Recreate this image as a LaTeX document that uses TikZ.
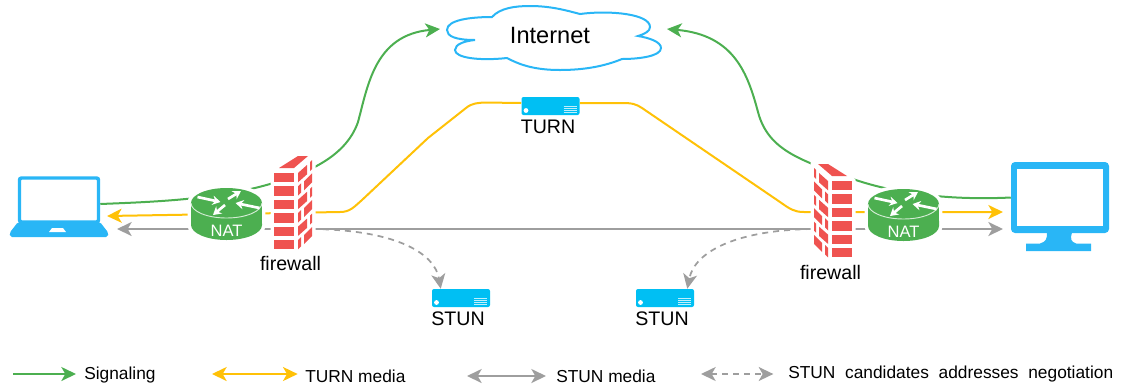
\documentclass[tikz,border=0pt]{standalone}
\usepackage{fontspec}
\setmainfont{Liberation Sans}
\usetikzlibrary{positioning, arrows.meta}

\definecolor{sigcolor}{HTML}{4CAF50}
\definecolor{turncolor}{HTML}{FFC107}
\definecolor{stuncolor}{HTML}{9E9E9E}
\definecolor{iconblue}{HTML}{29B6F6}
\definecolor{serverblue}{HTML}{00BFF3}
\definecolor{wallred}{HTML}{EF5350}

\tikzset{
  tip/.tip={Stealth[length=11pt, width=10.5pt, inset=3pt]},
  sigline/.style={draw=sigcolor, line width=1.5pt},
  turnline/.style={draw=turncolor, line width=1.5pt},
  stunline/.style={draw=stuncolor, line width=1.5pt},
  negoline/.style={draw=stuncolor, line width=1.3pt, dash pattern=on 4.5pt off 3.75pt},
  hiddenbox/.style={inner sep=0pt, minimum width=#1},
  serverbox/.style={fill=serverblue, rounded corners=1.5pt, minimum width=43.5pt, minimum height=13.5pt, inner sep=0pt},
  bigtext/.style={font=\fontsize{14.7pt}{17pt}\selectfont, inner sep=0pt},
  legendtext/.style={font=\fontsize{13pt}{15pt}\selectfont, inner sep=0pt, anchor=west},
  natlabel/.style={font=\fontsize{12.4pt}{14pt}\selectfont, text=white, inner sep=0pt},
  servermarks/.pic={
    \fill[white] (-24.5,4.5) circle (1.8pt);
    \foreach \v in {0.5,2.5,4.5,6.5} {
      \draw[white!75!serverblue, line width=0.9pt] (13,\v) -- (26,\v);
    }
  },
  routericon/.pic={
    % white gap round the router, then the body
    \draw[white, line width=5.25pt] (-35.5,-11) arc[start angle=180, end angle=0, x radius=26.6pt, y radius=11.25pt]
      -- (35.5,11) arc[start angle=0, end angle=-180, x radius=26.6pt, y radius=11.25pt] -- cycle;
    \fill[sigcolor] (-35.5,-11) arc[start angle=180, end angle=0, x radius=26.6pt, y radius=11.25pt]
      -- (35.5,11) arc[start angle=0, end angle=-180, x radius=26.6pt, y radius=11.25pt] -- cycle;
    \draw[white!75!sigcolor, line width=0.7pt] (-35.5,-11) arc[start angle=180, end angle=360, x radius=26.6pt, y radius=11.25pt];
    % Arrows on the top
    \foreach \xa/\ya/\xb/\yb in {-29/-17/-6/-12, 1.5/-15/14.5/-23, 33/-6/9/-11, -1.5/-9/-13.5/1} {
      \draw[white, line width=2pt, -{Stealth[length=6pt, width=7pt]}] (\xa,\ya) -- (\xb,\yb);
    }
  },
  firewallicon/.pic={
    % white gap round the wall
    \fill[white, draw=white, line width=5.25pt] (0,0) -- (5,-5) -- (24,-17) -- (38,-17) -- (38,62) -- (24,76) -- (0,76) -- cycle;
    \fill[wallred] (5,-5) -- (24,-17) -- (34,-17) -- (20,-5) -- cycle;
    \foreach \k in {0,...,5} {
      % Front bricks
      \fill[wallred] (0,13.4*\k) rectangle (20,13.4*\k+9.3);
    }
    % Side bricks
    \foreach \k in {0,2,4} {
      \fill[wallred] (24,13.4*\k) -- (33,13.4*\k-8) -- (33,13.4*\k+1.3) -- (24,13.4*\k+9.3) -- cycle;
      \fill[wallred] (36,13.4*\k-11) -- (38,13.4*\k-13) -- (38,13.4*\k-4) -- (36,13.4*\k-2) -- cycle;
    }
    \foreach \k in {1,3,5} {
      \fill[wallred] (24,13.4*\k) -- (27,13.4*\k-3) -- (27,13.4*\k+6.3) -- (24,13.4*\k+9.3) -- cycle;
      \fill[wallred] (30,13.4*\k-5) -- (38,13.4*\k-13) -- (38,13.4*\k-4) -- (30,13.4*\k+4) -- cycle;
    }
  },
  laptopicon/.pic={
    \draw[iconblue, line width=2.6pt, fill=white, rounded corners=1.5pt] (-39.5,-24) rectangle (39.5,20);
    \fill[iconblue, rounded corners=1.5pt] (-41,20) -- (41,20) -- (49.5,31) -- (49,35) -- (-49,35) -- (-49.5,31) -- cycle;
    \fill[white] (-7,26) -- (4,26) -- (7,30) -- (-10,30) -- cycle;
  },
  monitoricon/.pic={
    \fill[iconblue, rounded corners=3pt] (-49,-35.5) rectangle (49,35.5);
    \fill[white] (-43,-29) rectangle (43,28.5);
    \fill[iconblue] (-13,35) .. controls (-13,42) and (-14,44) .. (-20,46) -- (-34,46) -- (-34,53.5) -- (31,53.5)
      -- (31,46) -- (16,46) .. controls (11,44) and (10,42) .. (12,35) -- cycle;
  }
}

\begin{document}
\begin{tikzpicture}[x=0.75pt, y=-0.75pt]
  \useasboundingbox (0,0) rectangle (1123,387);

  % Draw cloud
  \draw[iconblue, line width=1.5pt, fill=white] (475,40) .. controls (455,40) and (447,36) .. (447,30)
    .. controls (447,20) and (470,17) .. (492,17) .. controls (500,8) and (515,6) .. (530,6)
    .. controls (550,6) and (565,10) .. (580,14) .. controls (610,10) and (650,14) .. (650,27)
    .. controls (650,31) and (645,34) .. (638,36) .. controls (650,38) and (661,42) .. (661,48)
    .. controls (661,56) and (640,59) .. (622,59) .. controls (605,66) and (585,70) .. (560,70)
    .. controls (535,70) and (520,65) .. (507,58) .. controls (480,61) and (455,58) .. (455,50)
    .. controls (455,44) and (465,41) .. (475,40) -- cycle;
  \node (internet) at (550,35) {\fontsize{17.7pt}{20pt}\selectfont Internet};

  % Named places of the icons
  \node[hiddenbox=61.5pt] (laptop) at (59,204) {};
  \node[hiddenbox=73.5pt] (monitor) at (1060,197.5) {};
  \node[hiddenbox=53pt] (natL) at (226.5,214) {};
  \node[hiddenbox=53pt] (natR) at (903.5,215) {};

  % Draw servers
  \foreach \name/\x/\y/\txt in {turn/550.5/106/TURN, stunL/461/298/STUN, stunR/665/298/STUN} {
    \node[serverbox] (\name) at (\x,\y) {};
    \pic at (\name) {servermarks};
    \node[bigtext, below right=3.3pt and -0.5pt of \name.south west] (\name text) {\txt};
  }

  % Free ends of the arrows
  \coordinate (cloudL) at (440,29);
  \coordinate (cloudR) at (667,29);
  \coordinate (lapTurn) at (107,216);
  \coordinate (lapStun) at (117,229);
  \coordinate (monTurn) at (1003,212);
  \coordinate (monStun) at (1003,229);
  \coordinate (stunStartL) at (312,229);
  \coordinate (stunStartR) at (812,229);

  % Draw signaling
  \draw[sigline, -{tip}] (laptop.east) .. controls (150,202) and (215,200) .. (270,184)
    .. controls (300,175) and (345,160) .. (358,122) .. controls (368,85) and (375,35) .. (cloudL);
  \draw[sigline, -{tip}] (monitor.west) .. controls (960,200) and (900,196) .. (850,178)
    .. controls (800,160) and (768,150) .. (758,112) .. controls (748,75) and (735,35) .. (cloudR);

  % Draw TURN media
  \draw[turnline, -{tip}] (natL) -- (lapTurn);
  \draw[turnline] (natL) -- (340,212) .. controls (350,212) and (354,207) .. (362,200) -- (428,138) -- (466,108)
    .. controls (472,103) and (478,103) .. (484,102.5) -- ([yshift=2.25pt]turn.west);
  \draw[turnline, -{tip}] ([yshift=2.25pt]turn.east) -- (622,103) .. controls (632,103) and (636,104) .. (642,108)
    -- (780,202) .. controls (790,209) and (794,212) .. (804,212) -- (monTurn);

  % Draw STUN media
  \draw[stunline, {tip}-{tip}] (lapStun) -- (monStun);

  % Draw negotiation
  \draw[negoline, -{tip}] (stunStartL) .. controls (400,230) and (435,255) .. ([xshift=6.75pt]stunL.north west);
  \draw[negoline, -{tip}] (stunStartR) .. controls (740,230) and (695,250) .. ([xshift=-5.25pt]stunR.north east);

  % Draw icons on top of the lines
  \pic at (natL) {routericon};
  \pic at (natR) {routericon};
  \pic at (274,173) {firewallicon};
  \pic[xscale=-1] at (852,181) {firewallicon};
  \pic at (59,202) {laptopicon};
  \pic at (1060,197.5) {monitoricon};

  \node[natlabel] (natLtext) at (226.5,231) {NAT};
  \node[natlabel] (natRtext) at (903.5,232) {NAT};
  \node[bigtext] (wallLtext) at (290.5,263) {firewall};
  \node[bigtext] (wallRtext) at (830.5,272) {firewall};

  % Draw legend
  \node[legendtext] (legSig) at (84,375) {Signaling};
  \node[legendtext] (legTurn) at (305,376) {TURN media};
  \node[legendtext] (legStun) at (556,376) {STUN media};
  \node[legendtext] (legNego) at (788,374) {\spaceskip=0.56em STUN candidates addresses negotiation};
  \coordinate (legSigA) at (13,374);
  \coordinate (legTurnA) at (212,374);
  \coordinate (legStunA) at (467,376);
  \coordinate (legNegoA) at (701,374);
  \draw[sigline, -{tip}] (legSigA) -- ([xshift=-6pt]legSig.west |- legSigA);
  \draw[turnline, {tip}-{tip}] (legTurnA) -- ([xshift=-5.5pt]legTurn.west |- legTurnA);
  \draw[stunline, {tip}-{tip}] (legStunA) -- ([xshift=-7.5pt]legStun.west |- legStunA);
  \draw[negoline, {tip}-{tip}] (legNegoA) -- ([xshift=-11pt]legNego.west |- legNegoA);
\end{tikzpicture}
\end{document}
